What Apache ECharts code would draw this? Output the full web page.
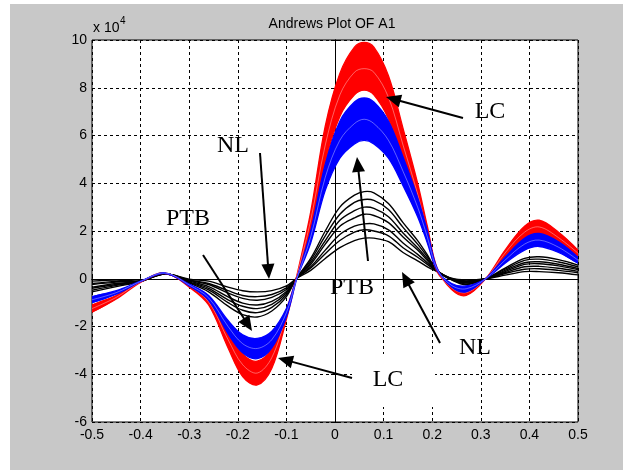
<!DOCTYPE html>
<html><head><meta charset="utf-8">
<script src="https://cdn.jsdelivr.net/npm/echarts@6/dist/echarts.min.js"></script>
<style>
html,body{margin:0;padding:0;background:#fff;}
#wrap{position:relative;width:623px;height:470px;background:#fff;overflow:hidden;}
#bg{position:absolute;left:10px;top:4px;right:0;bottom:0;background:#c8c8c8;}
#chart{position:absolute;left:0;top:0;width:623px;height:470px;}
</style></head>
<body><div id="wrap"><div id="bg"></div><div id="chart"></div></div>
<script>
// x positions (curve argument)
const xs = [-0.5,-0.45,-0.4,-0.35,-0.3,-0.26,-0.22,-0.19,-0.16,-0.13,-0.1,-0.08,-0.05,-0.02,0.01,0.04,0.06,0.08,0.11,0.14,0.17,0.19,0.21,0.24,0.27,0.31,0.35,0.39,0.42,0.46,0.5];

// LC group (red), values x 10^4
const lcHigh = [-1.4,-0.85,-0.15,0.25,-0.35,-1.1,-2.9,-4.1,-4.45,-3.75,-1.7,0,2.8,6.4,8.6,9.7,9.9,9.7,8.5,6.3,4.0,2.2,0.45,-0.45,-0.7,0,1.2,2.2,2.45,1.95,1.2];
const lcMid  = [-1.25,-0.78,-0.13,0.24,-0.3,-0.97,-2.55,-3.6,-3.95,-3.3,-1.5,0,2.45,5.6,7.7,8.65,8.8,8.65,7.6,5.6,3.55,1.95,0.38,-0.38,-0.58,0,1.08,1.95,2.17,1.72,1.07];
const lcLow  = [-1.1,-0.7,-0.12,0.22,-0.25,-0.85,-2.2,-3.15,-3.45,-2.9,-1.3,0,2.1,4.9,6.8,7.7,7.9,7.7,6.7,5.0,3.1,1.7,0.3,-0.3,-0.45,0,0.95,1.7,1.9,1.5,0.95];

// PTB group (blue)
const ptbHigh = [-1.0,-0.65,-0.12,0.25,-0.3,-0.9,-2.3,-3.1,-3.35,-2.9,-1.6,-0.1,2.0,4.8,6.6,7.4,7.57,7.4,6.6,5.1,3.4,2.0,0.45,-0.35,-0.55,0,0.9,1.7,1.9,1.55,0.9];
const ptbMid  = [-0.88,-0.58,-0.11,0.24,-0.26,-0.8,-2.0,-2.72,-2.92,-2.55,-1.42,-0.08,1.75,4.25,5.8,6.5,6.68,6.5,5.8,4.5,3.0,1.75,0.4,-0.28,-0.42,0,0.78,1.45,1.62,1.32,0.78];
const ptbLow  = [-0.75,-0.5,-0.1,0.22,-0.22,-0.7,-1.75,-2.35,-2.5,-2.2,-1.25,-0.05,1.5,3.7,5.05,5.65,5.8,5.65,5.05,3.9,2.6,1.5,0.35,-0.2,-0.3,0,0.65,1.2,1.35,1.1,0.65];

// NL group (black), individual curves
const nl1 = [-0.1,-0.05,-0.08,0.2,-0.02,-0.1,-0.35,-0.5,-0.55,-0.5,-0.3,0,0.35,0.85,1.3,1.6,1.7,1.7,1.55,1.1,0.75,0.5,0.3,0.02,-0.05,0,0.15,0.3,0.3,0.25,0.16];
const nl2 = [-0.2,-0.11,-0.09,0.2,-0.05,-0.2,-0.5,-0.7,-0.75,-0.66,-0.38,0,0.45,1.05,1.6,1.95,2.05,2.0,1.8,1.3,0.9,0.6,0.31,0.0,-0.09,0,0.22,0.4,0.42,0.35,0.25];
const nl3 = [-0.24,-0.14,-0.09,0.21,-0.07,-0.24,-0.6,-0.82,-0.9,-0.78,-0.45,0,0.5,1.2,1.85,2.2,2.3,2.3,2.05,1.5,1.02,0.67,0.32,-0.01,-0.12,0,0.26,0.5,0.52,0.44,0.31];
const nl4 = [-0.35,-0.2,-0.1,0.21,-0.1,-0.33,-0.76,-1.02,-1.1,-0.95,-0.53,0,0.6,1.45,2.2,2.55,2.7,2.65,2.35,1.75,1.2,0.76,0.33,-0.02,-0.15,0,0.3,0.6,0.63,0.54,0.38];
const nl5 = [-0.4,-0.24,-0.11,0.21,-0.13,-0.4,-0.88,-1.15,-1.25,-1.07,-0.6,0,0.68,1.6,2.45,2.85,3.0,2.95,2.6,1.92,1.3,0.83,0.33,-0.03,-0.18,0,0.35,0.67,0.71,0.61,0.43];
const nl6 = [-0.48,-0.28,-0.11,0.22,-0.15,-0.47,-1.0,-1.32,-1.42,-1.2,-0.67,0,0.77,1.8,2.7,3.2,3.32,3.28,2.9,2.15,1.45,0.92,0.34,-0.04,-0.22,0,0.4,0.77,0.82,0.7,0.5];
const nl7 = [-0.55,-0.33,-0.12,0.22,-0.18,-0.55,-1.15,-1.5,-1.6,-1.35,-0.75,0,0.85,2.0,3.0,3.5,3.65,3.6,3.15,2.35,1.6,1.0,0.35,-0.05,-0.25,0,0.45,0.85,0.92,0.8,0.57];

const xTickLabels = ['-0.5','-0.4','-0.3','-0.2','-0.1','0','0.1','0.2','0.3','0.4','0.5'];
const yTickLabels = ['-6','-4','-2','0','2','4','6','8','10'];
const title = 'Andrews Plot OF A1';

const SM = 0.35;
function polyline(pts, color, width){
  return {type:'polyline', shape:{points:pts, smooth:SM}, style:{stroke:color, lineWidth:width, fill:null}};
}
function curvesSeries(list, color, width){
  return {type:'custom', coordinateSystem:'cartesian2d', clip:true, silent:true, animation:false,
    data:[[0,0]],
    renderItem:function(params, api){
      return {type:'group', children: list.map(ys => polyline(xs.map((x,i)=>api.coord([x, ys[i]])), color, width))};
    }};
}
function bandSeries(hi, mid, lo, color){
  return {type:'custom', coordinateSystem:'cartesian2d', clip:true, silent:true, animation:false,
    data:[[0,0]],
    renderItem:function(params, api){
      const H = xs.map((x,i)=>api.coord([x, hi[i]]));
      const L = xs.map((x,i)=>api.coord([x, lo[i]]));
      const M = xs.map((x,i)=>api.coord([x, mid[i]]));
      return {type:'group', children:[
        {type:'polygon', shape:{points:H.concat(L.slice().reverse()), smooth:SM}, style:{fill:color, stroke:null}},
        polyline(H, color, 1.3),
        polyline(L, color, 1.3),
        {type:'polyline', shape:{points:M, smooth:SM}, style:{stroke:'rgba(255,255,255,0.55)', lineWidth:0.7, fill:null}}
      ]};
    }};
}

const series = [
  curvesSeries([nl1,nl2,nl3,nl4,nl5,nl6,nl7], '#000', 1.4),
  bandSeries(lcHigh, lcMid, lcLow, '#ff0000'),
  bandSeries(ptbHigh, ptbMid, ptbLow, '#0000ff')
];

function xLabel(v){ const i = Math.round((v+0.5)*10); return xTickLabels[i]; }
function yLabel(v){ const i = Math.round((v+6)/2); return yTickLabels[i]; }

function arrow(x1,y1,x2,y2){
  const dx=x2-x1, dy=y2-y1, L=Math.hypot(dx,dy), ux=dx/L, uy=dy/L;
  const hl=15, hw=6.5;
  const bx=x2-ux*hl, by=y2-uy*hl;
  return [
    {type:'line', z:50, shape:{x1:x1,y1:y1,x2:bx+ux*2,y2:by+uy*2}, style:{stroke:'#000', lineWidth:2}},
    {type:'polygon', z:50, shape:{points:[[x2,y2],[bx-uy*hw, by+ux*hw],[bx+uy*hw, by-ux*hw]]}, style:{fill:'#000'}}
  ];
}
function label(t,x,y){
  return {type:'text', z:50, x:x, y:y, style:{text:t, fontSize:24, fontFamily:'Liberation Serif', fill:'#000', align:'center', verticalAlign:'middle'}};
}

const graphics = [
  {type:'rect', z:40, shape:{x:352,y:354,width:83,height:53}, style:{fill:'#fff'}},
  {type:'text', z:50, x:332, y:24, style:{text:title, fontSize:14, fontFamily:'Liberation Sans', fill:'#000', align:'center', verticalAlign:'middle'}},
  {type:'text', z:50, x:93, y:28, style:{text:'x 10', fontSize:14, fontFamily:'Liberation Sans', fill:'#000', align:'left', verticalAlign:'middle'}},
  {type:'text', z:50, x:120, y:21, style:{text:'4', fontSize:10, fontFamily:'Liberation Sans', fill:'#000', align:'left', verticalAlign:'middle'}},
  label('LC',490,112), label('NL',233,146), label('PTB',188,219),
  label('PTB',352,288), label('NL',475,348), label('LC',388,380)
].concat(arrow(463,118,386,97), arrow(260,153,269,279), arrow(203,255,252,331),
         arrow(352,378,278,358), arrow(368,261,357,157), arrow(440,343,402,272));

const chart = echarts.init(document.getElementById('chart'), null, {renderer:'canvas'});
chart.setOption({
  backgroundColor:'transparent',
  animation:false,
  grid:{left:92, top:40, width:486, height:382, show:true, backgroundColor:'#fff', borderColor:'#000', borderWidth:1},
  xAxis:[
    {type:'value', min:-0.5, max:0.5, interval:0.1, position:'bottom',
      axisLine:{show:true, lineStyle:{color:'#000', width:1}},
      axisTick:{show:true, inside:true, length:4, lineStyle:{color:'#000'}},
      axisLabel:{formatter:xLabel, color:'#000', fontSize:14, fontFamily:'Liberation Sans', margin:6},
      splitLine:{show:true, lineStyle:{color:'#000', width:1, type:[3,3]}}},
    {type:'value', min:-0.5, max:0.5, interval:0.1, position:'top',
      axisLine:{show:true, lineStyle:{color:'#000'}}, axisTick:{show:true, inside:true, length:4, lineStyle:{color:'#000'}},
      axisLabel:{show:false}, splitLine:{show:false}}
  ],
  yAxis:[
    {type:'value', min:-6, max:10, interval:2, position:'left',
      axisLine:{show:true, lineStyle:{color:'#000', width:1}},
      axisTick:{show:true, inside:true, length:4, lineStyle:{color:'#000'}},
      axisLabel:{formatter:yLabel, color:'#000', fontSize:14, fontFamily:'Liberation Sans', margin:5},
      splitLine:{show:true, lineStyle:{color:'#000', width:1, type:[3,3]}}},
    {type:'value', min:-6, max:10, interval:2, position:'right',
      axisLine:{show:true, lineStyle:{color:'#000'}}, axisTick:{show:true, inside:true, length:4, lineStyle:{color:'#000'}},
      axisLabel:{show:false}, splitLine:{show:false}}
  ],
  series: series,
  graphic: graphics
});
</script></body></html>
